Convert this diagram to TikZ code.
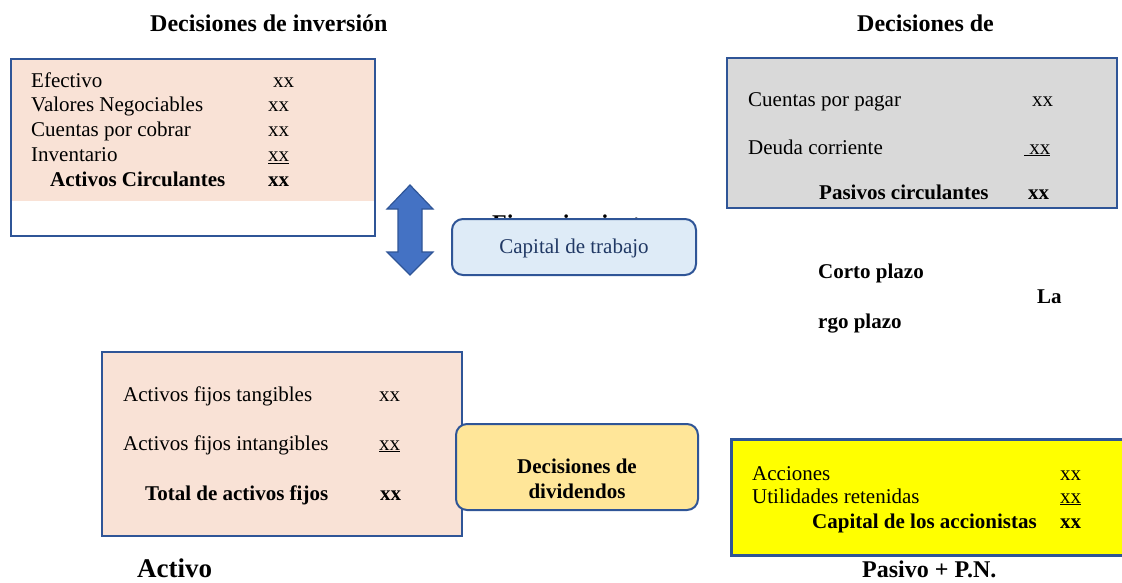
\documentclass[tikz,border=0pt]{standalone}
\usepackage{fontspec}
\setmainfont{Liberation Serif}
\definecolor{bordc}{HTML}{2F5597}
\definecolor{peach}{HTML}{F9E2D6}
\definecolor{grayfill}{HTML}{D9D9D9}
\definecolor{lightblue}{HTML}{DEEBF7}
\definecolor{navy}{HTML}{203864}
\definecolor{divfill}{HTML}{FFE699}
\definecolor{arrowc}{HTML}{4472C4}
\definecolor{yelfill}{RGB}{255,255,0}
\begin{document}
\begin{tikzpicture}[x=1pt,y=-1pt,
  box/.style={draw=bordc, line width=2.4pt, inner sep=0pt, anchor=north west},
  rbox/.style={draw=bordc, line width=2pt, rounded corners=11pt, inner sep=0pt, anchor=north west},
  t/.style={anchor=base west, inner sep=0pt, font=\fontsize{21}{24}\selectfont},
  tb/.style={anchor=base west, inner sep=0pt, font=\fontsize{21}{24}\selectfont\bfseries},
  hd/.style={anchor=base west, inner sep=0pt, font=\fontsize{24}{28}\selectfont\bfseries}
]
\useasboundingbox (0,0) rectangle (1122,583);

% headers
\node[hd] (h1) at (150,32) {Decisiones de inversión};
\node[hd] (h2) at (857,32) {Decisiones de};

% top-left box
\fill[peach] (10,58) rectangle (374,201);
\node[box, minimum width=364pt, minimum height=177pt] (bA) at (10,58) {};
\node[t] (a1) at (31,87.5) {Efectivo};
\node[t] (a1x) at (273,87.5) {xx};
\node[t] (a2) at (31,112) {Valores Negociables};
\node[t] (a2x) at (268,112) {xx};
\node[t] (a3) at (31,136.5) {Cuentas por cobrar};
\node[t] (a3x) at (268,136.5) {xx};
\node[t] (a4) at (31,161.5) {Inventario};
\node[t] (a4x) at (268,161.5) {\underline{xx}};
\node[tb] (a5) at (50,186) {Activos Circulantes};
\node[tb] (a5x) at (268,186) {xx};

% top-right box
\node[box, fill=grayfill, minimum width=390pt, minimum height=150pt] (bP) at (726,57) {};
\node[t] (p1) at (748,107) {Cuentas por pagar};
\node[t] (p1x) at (1032,107) {xx};
\node[t] (p2) at (748,154) {Deuda corriente};
\node[t] (p2x) at (1024,154) {\underline{\ xx}};
\node[tb] (p3) at (819,199) {Pasivos circulantes};
\node[tb] (p3x) at (1028,199) {xx};

% double arrow
\filldraw[fill=arrowc, draw=bordc, line width=1.2pt, line join=miter]
  (410,185) -- (433,209) -- (422,209) -- (422,252) -- (433,252) -- (410,275)
  -- (387,252) -- (398,252) -- (398,209) -- (387,209) -- cycle;

% hidden Financiamiento text and capital de trabajo box
\node[hd] (fin) at (492,231.5) {Financiamiento};
\node[rbox, fill=lightblue, minimum width=244pt, minimum height=56pt] (ct) at (451,218) {};
\node[t, text=navy, anchor=base] (ctt) at (ct.center |- 0,253) {Capital de trabajo};

% long term texts
\node[tb] (cp) at (818,278) {Corto plazo};
\node[tb] (la) at (1037,303) {La};
\node[tb] (lp) at (818,328) {rgo plazo};

% bottom-left box
\node[box, fill=peach, minimum width=360pt, minimum height=184pt] (bF) at (101,351) {};
\node[t] (f1) at (123,401) {Activos fijos tangibles};
\node[t] (f1x) at (379,401) {xx};
\node[t] (f2) at (123,450) {Activos fijos intangibles};
\node[t] (f2x) at (379,450) {\underline{xx}};
\node[tb] (f3) at (145,500) {Total de activos fijos};
\node[tb] (f3x) at (380,500) {xx};

% dividends box
\node[rbox, fill=divfill, minimum width=242pt, minimum height=86pt] (dv) at (455,423) {};
\node[tb, anchor=base] (dv1) at (dv.center |- 0,473) {Decisiones de};
\node[tb, anchor=base] (dv2) at (dv.center |- 0,498) {dividendos};

% yellow box
\node[box, fill=yelfill, line width=2.8pt, minimum width=420pt, minimum height=116pt] (bC) at (730,438) {};
\node[t] (c1) at (752,480) {Acciones};
\node[t] (c1x) at (1060,480) {xx};
\node[t] (c2) at (752,503) {Utilidades retenidas};
\node[t] (c2x) at (1060,503) {\underline{xx}};
\node[tb] (c3) at (812,528) {Capital de los accionistas};
\node[tb] (c3x) at (1060,528) {xx};

% footers
\node[anchor=base west, inner sep=0pt, font=\fontsize{27}{30}\selectfont\bfseries] (act) at (137,577) {Activo};
\node[hd] (pas) at (862,577) {Pasivo + P.N.};
\end{tikzpicture}
\end{document}
